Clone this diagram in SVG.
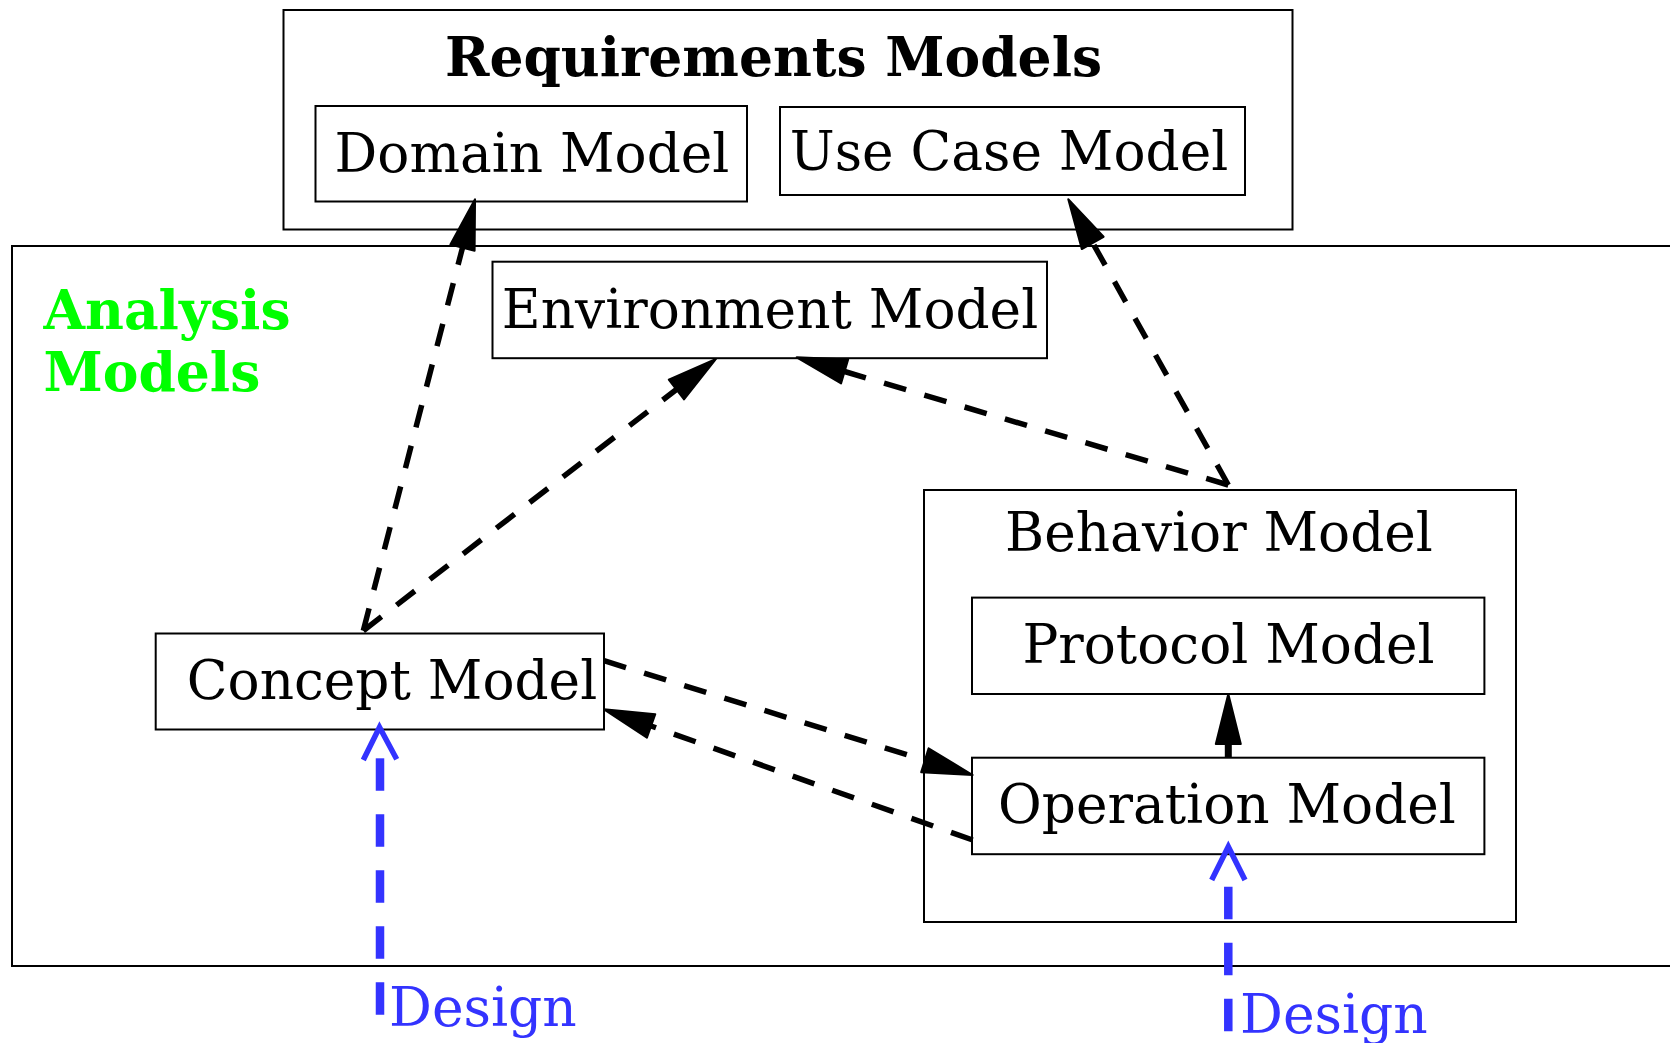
<svg xmlns="http://www.w3.org/2000/svg" width="1670" height="1043" viewBox="0 0 1670 1043">
  <style>
    .box { fill: none; stroke: #000; stroke-width: 2; }
    .lbl { font-family: "DejaVu Serif", "Liberation Serif", serif; font-size: 53.3px; fill: #000; }
    .title { font-family: "DejaVu Serif", "Liberation Serif", serif; font-size: 53.5px; font-weight: bold; }
    .dep { fill: none; stroke: #000; stroke-width: 5.5; stroke-dasharray: 23 19; marker-end: url(#head); }
    .solid { fill: none; stroke: #000; stroke-width: 7; marker-end: url(#head); }
    .design { fill: none; stroke: #3333ff; stroke-width: 8.5; stroke-dasharray: 32.5 23.5; }
    .open { fill: none; stroke: #3333ff; stroke-width: 5.5; stroke-linejoin: miter; }
    .dlbl { font-family: "DejaVu Serif", "Liberation Serif", serif; font-size: 53.5px; fill: #3333ff; }
  </style>
  <defs>
    <marker id="head" markerUnits="userSpaceOnUse" viewBox="-2 -15 54 30" refX="0" refY="0" markerWidth="54" markerHeight="30" orient="auto" overflow="visible">
      <path d="M0,-12.5 L50,0 L0,12.5 Z" fill="#000" stroke="#000" stroke-width="2" stroke-linejoin="round"/>
    </marker>
  </defs>

  <rect width="1670" height="1043" fill="#fff"/>

  <!-- containers -->
  <g id="requirements-models">
    <rect class="box" x="283.5" y="10" width="1009" height="219.5"/>
    <text class="title" x="773.5" y="75.5" text-anchor="middle">Requirements Models</text>
  </g>
  <g id="analysis-models">
    <rect class="box" x="12" y="246" width="1700" height="720"/>
    <text class="title" fill="#00ff00" x="43.5" y="328.5">Analysis</text>
    <text class="title" fill="#00ff00" x="43.5" y="391">Models</text>
  </g>
  <g id="behavior-model">
    <rect class="box" x="924" y="490" width="592" height="432"/>
    <text class="lbl" x="1219" y="551" text-anchor="middle">Behavior Model</text>
  </g>

  <!-- model nodes -->
  <g id="domain-model">
    <rect class="box" x="315.5" y="106" width="431.5" height="95.5"/>
    <text class="lbl" x="532" y="171.5" text-anchor="middle">Domain Model</text>
  </g>
  <g id="use-case-model">
    <rect class="box" x="780" y="107" width="465" height="88"/>
    <text class="lbl" x="1009" y="170" text-anchor="middle">Use Case Model</text>
  </g>
  <g id="environment-model">
    <rect class="box" x="492.5" y="261.7" width="554.5" height="96.5"/>
    <text class="lbl" x="770" y="327.7" text-anchor="middle">Environment Model</text>
  </g>
  <g id="concept-model">
    <rect class="box" x="155.7" y="633.5" width="448.3" height="96"/>
    <text class="lbl" x="392" y="699.3" text-anchor="middle">Concept Model</text>
  </g>
  <g id="protocol-model">
    <rect class="box" x="972" y="597.6" width="512.4" height="96.4"/>
    <text class="lbl" x="1228.5" y="662.6" text-anchor="middle">Protocol Model</text>
  </g>
  <g id="operation-model">
    <rect class="box" x="972" y="757.7" width="512.4" height="96.5"/>
    <text class="lbl" x="1227" y="822.5" text-anchor="middle">Operation Model</text>
  </g>

  <!-- dependencies between models -->
  <g id="connectors">
    <line class="dep" x1="363.3" y1="630.7" x2="462.5" y2="247.7"/>
    <line class="dep" x1="363.3" y1="630.7" x2="676.4" y2="389.5"/>
    <line class="dep" x1="1228.3" y1="485" x2="1092.7" y2="242.9"/>
    <line class="dep" x1="1228.3" y1="485" x2="844.6" y2="371.5"/>
    <line class="dep" x1="604" y1="660.7" x2="924.9" y2="760.2"/>
    <line class="dep" x1="972.7" y1="840" x2="651.1" y2="726"/>
    <line class="solid" x1="1228.3" y1="758" x2="1228.3" y2="744"/>

    <!-- design refinements -->
    <line class="design" x1="380" y1="758.3" x2="380" y2="1015"/>
    <polyline class="open" points="363.3,760 379.5,727.3 396.7,759.3"/>
    <text class="dlbl" x="389" y="1026">Design</text>
    <line class="design" x1="1228.3" y1="886.7" x2="1228.3" y2="1043"/>
    <polyline class="open" points="1211.7,880 1228.3,846.7 1245,880"/>
    <text class="dlbl" x="1240" y="1032.6">Design</text>
  </g>
</svg>
